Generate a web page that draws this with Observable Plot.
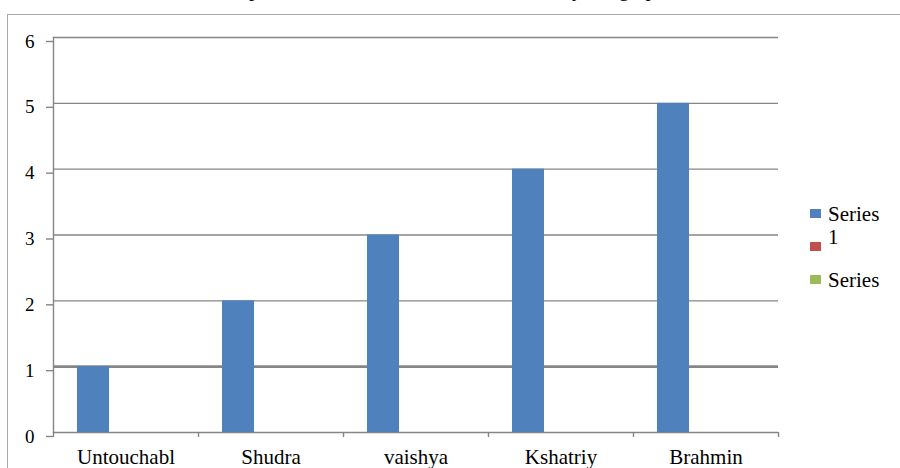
<!DOCTYPE html>
<html>
<head>
<meta charset="utf-8">
<script src="https://cdn.jsdelivr.net/npm/d3@7"></script>
<script src="https://cdn.jsdelivr.net/npm/@observablehq/plot@0.6"></script>
<style>
  html, body { margin: 0; padding: 0; background: #fff; overflow: hidden; }
  body { width: 900px; height: 468px; position: relative; font-family: "Liberation Serif", "Times New Roman", serif; }
  #title { position: absolute; left: 0; width: 940px; top: -24px; text-align: center; font-size: 21px; line-height: 26px; color: #000; white-space: nowrap; }
  #area { position: absolute; left: 7px; top: 14px; width: 900px; height: 470px; border-left: 1.5px solid #a8a8a8; border-top: 1.5px solid #a8a8a8; box-sizing: border-box; }
  #chart { position: absolute; left: 0; top: 0; }
  #chart svg text { font-family: "Liberation Serif", "Times New Roman", serif; }
  #legend { position: absolute; left: 810px; top: 209px; }
  .row { position: absolute; left: 0; height: 33px; }
  .sw { position: absolute; left: 0; top: 0; width: 11px; height: 9px; }
  .lab { position: absolute; left: 18px; top: -6px; width: 60px; font-size: 21px; line-height: 23px; overflow: hidden; color: #000; }
</style>
</head>
<body>
<div id="title">The social position of an individual is indicated by the graph shown below</div>
<div id="area"></div>
<div id="chart"></div>
<div id="legend"></div>
<script>
// Caste categories and their values (Series 1); Series 2 and 3 carry no values
const categories = ["Untouchabl", "Shudra", "vaishya", "Kshatriy", "Brahmin"];
const series1 = [1, 2, 3, 4, 5];
const seriesNames = ["Series 1", "Series 2", "Series 3"];
const seriesColors = ["#4f81bd", "#c0504d", "#9bbb59"];
const yTicks = [0, 1, 2, 3, 4, 5, 6];
// number of legend text lines left visible for each entry
const legendLines = [2, 0, 1];

const data = categories.map((c, i) => ({category: c, value: series1[i]}));

const W = 900, H = 490, mL = 53, mR = 122, mT = 37, mB = 58;
const band = (W - mL - mR) / categories.length;
const gridColor = "#868686";
const font = "Liberation Serif, Times New Roman, serif";

const chart = Plot.plot({
  width: W,
  height: H,
  marginLeft: mL,
  marginRight: mR,
  marginTop: mT,
  marginBottom: mB,
  style: {fontFamily: font, background: "transparent", color: "#000"},
  x: {type: "band", domain: categories, padding: 0, axis: null},
  y: {domain: [0, 6], axis: null},
  marks: [
    // horizontal gridlines (the 0 line doubles as the category axis)
    Plot.ruleY(yTicks, {y: d => d, stroke: gridColor, strokeWidth: d => d === 1 ? 2.6 : 1.4}),
    // value axis line
    Plot.frame({anchor: "left", stroke: gridColor, strokeWidth: 1.4}),
    // value axis ticks and labels
    Plot.axisY(yTicks, {
      label: null, tickSize: 7, tickPadding: 12, stroke: gridColor, strokeWidth: 1.4,
      fontSize: 19, fontFamily: font, dy: 4, tickFormat: d => String(d)
    }),
    // category boundary ticks below the axis
    Plot.ruleX(categories, {x: d => d, y1: 0, y2: 0, insetBottom: -5, dx: -band / 2, stroke: gridColor, strokeWidth: 1.4}),
    Plot.ruleX(categories.slice(-1), {x: d => d, y1: 0, y2: 0, insetBottom: -5, dx: band / 2, stroke: gridColor, strokeWidth: 1.4}),
    // Series 1 bars, in the first of three series slots within each category
    Plot.barY(data, {x: "category", y: "value", fill: seriesColors[0], insetLeft: 24, insetRight: band - 56}),
    // category labels
    Plot.axisX({label: null, tickSize: 0, tickPadding: 17, fontSize: 21, fontFamily: font})
  ]
});
document.getElementById("chart").appendChild(chart);

// legend
const legend = document.getElementById("legend");
seriesNames.forEach((name, i) => {
  const row = document.createElement("div");
  row.className = "row";
  row.style.top = (i * 33) + "px";
  const sw = document.createElement("div");
  sw.className = "sw";
  sw.style.background = seriesColors[i];
  row.appendChild(sw);
  if (legendLines[i] > 0) {
    const lab = document.createElement("div");
    lab.className = "lab";
    lab.style.height = (legendLines[i] * 23 + 3) + "px";
    lab.textContent = name;
    row.appendChild(lab);
  }
  legend.appendChild(row);
});
</script>
</body>
</html>
